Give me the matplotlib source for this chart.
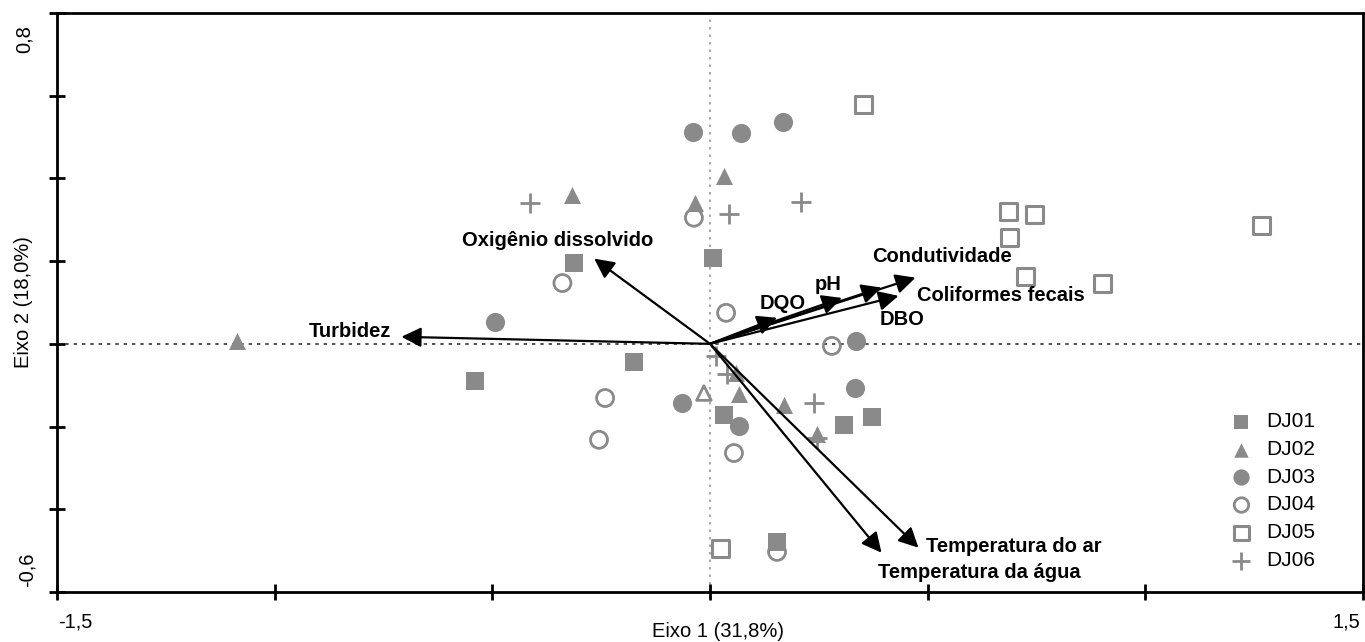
import numpy as np
import matplotlib.pyplot as plt

#%% DATA

# sample scores (Eixo 1, Eixo 2)
dj01_x = [-0.312, 0.007, -0.541, -0.174, 0.032, 0.307, 0.372, 0.154]
dj01_y = [0.196, 0.208, -0.089, -0.044, -0.172, -0.196, -0.177, -0.479]

dj02_x = [-1.087, -0.317, -0.034, 0.032, 0.067, 0.170, 0.245, 0.060]
dj02_y = [0.007, 0.360, 0.341, 0.406, -0.121, -0.147, -0.218, -0.070]
dj02_open_x = [-0.014]
dj02_open_y = [-0.119]

dj03_x = [-0.039, 0.071, 0.167, -0.495, 0.335, 0.333, -0.064, 0.067]
dj03_y = [0.513, 0.510, 0.537, 0.053, 0.007, -0.106, -0.143, -0.198]

dj04_x = [-0.037, -0.339, 0.037, 0.280, -0.241, -0.255, 0.055, 0.154]
dj04_y = [0.305, 0.147, 0.075, -0.005, -0.131, -0.232, -0.264, -0.503]

dj05_x = [0.353, 0.686, 0.745, 0.688, 0.725, 0.901, 1.266, 0.025]
dj05_y = [0.578, 0.319, 0.312, 0.256, 0.162, 0.145, 0.285, -0.496]

dj06_x = [-0.413, 0.044, 0.209, 0.014, 0.039, 0.239, 0.245]
dj06_y = [0.341, 0.314, 0.343, -0.029, -0.073, -0.143, -0.227]

# environmental variables (arrow tips)
var_names = ['Oxigênio dissolvido', 'Turbidez', 'DQO', 'pH', 'DBO',
             'Condutividade', 'Coliformes fecais',
             'Temperatura do ar', 'Temperatura da água']
var_x = [-0.266, -0.709, 0.154, 0.303, 0.394, 0.472, 0.433, 0.479, 0.394]
var_y = [0.206, 0.017, 0.063, 0.111, 0.136, 0.160, 0.116, -0.493, -0.505]
# label anchor (left edge, vertical centre)
lab_x = [-0.569, -0.921, 0.113, 0.241, 0.389, 0.372, 0.476, 0.497, 0.385]
lab_y = [0.250, 0.029, 0.097, 0.143, 0.060, 0.210, 0.118, -0.490, -0.553]

#%% PLOT

gray = '#8a8a8a'
font = 'Liberation Sans'
fig = plt.figure(figsize=(13.65, 6.42), dpi=100)
ax = fig.add_axes([0.0418, 0.0779, 0.9567, 0.9019])
ax.set_xlim(-1.5, 1.5)
ax.set_ylim(-0.6, 0.8)

ax.axvline(0, color='#999999', lw=1.2, ls=(0, (1.5, 3)), zorder=1)
ax.axhline(0, color='#333333', lw=1.2, ls=(0, (2, 3)), zorder=1)

ax.scatter(dj01_x, dj01_y, marker='s', s=150, color=gray, lw=0, label='DJ01', zorder=2)
ax.scatter(dj02_x, dj02_y, marker='^', s=150, color=gray, lw=0, label='DJ02', zorder=2)
ax.scatter(dj02_open_x, dj02_open_y, marker='^', s=110, facecolor='none',
           edgecolor=gray, lw=2, zorder=2)
ax.scatter(dj03_x, dj03_y, marker='o', s=190, color=gray, lw=0, label='DJ03', zorder=2)
ax.scatter(dj04_x, dj04_y, marker='o', s=150, facecolor='none', edgecolor=gray,
           lw=2, label='DJ04', zorder=2)
ax.scatter(dj05_x, dj05_y, marker='s', s=150, facecolor='none', edgecolor=gray,
           lw=2.2, label='DJ05', zorder=2)
ax.scatter(dj06_x, dj06_y, marker='+', s=220, color=gray, lw=2, label='DJ06', zorder=2)

for name, vx, vy, tx, ty in zip(var_names, var_x, var_y, lab_x, lab_y):
    ax.annotate('', xy=(vx, vy), xytext=(0, 0),
                arrowprops=dict(arrowstyle='-|>', color='black', lw=1.6,
                                mutation_scale=30, shrinkA=0, shrinkB=0),
                zorder=3)
    ax.text(tx, ty, name, fontsize=14.5, fontweight='bold',
            family=font, ha='left', va='center', zorder=4)

# ticks, end labels only
ax.set_xticks([-1.5, -1.0, -0.5, 0, 0.5, 1.0, 1.5])
ax.set_yticks([-0.6, -0.4, -0.2, 0, 0.2, 0.4, 0.6, 0.8])
ax.set_xticklabels([])
ax.set_yticklabels([])
ax.tick_params(direction='inout', length=12, width=2)
for s in ax.spines.values():
    s.set_linewidth(2)

lab_kw = dict(textcoords='offset pixels', family=font, fontsize=14.5)
ax.annotate('0,8', xy=(0, 0.8), xycoords=('axes fraction', 'data'),
            xytext=(-33, -12), rotation=90, ha='center', va='top', **lab_kw)
ax.annotate('-0,6', xy=(0, -0.6), xycoords=('axes fraction', 'data'),
            xytext=(-30, 5), rotation=90, ha='center', va='bottom', **lab_kw)
ax.annotate('-1,5', xy=(-1.5, 0), xycoords=('data', 'axes fraction'),
            xytext=(1, -30), ha='left', va='center', **lab_kw)
ax.annotate('1,5', xy=(1.5, 0), xycoords=('data', 'axes fraction'),
            xytext=(-3, -30), ha='right', va='center', **lab_kw)

ax.set_xlabel('Eixo 1 (31,8%)', family=font, fontsize=14.5, labelpad=12)
ax.xaxis.label.set_x(0.506)
ax.set_ylabel('Eixo 2 (18,0%)', family=font, fontsize=14.5, labelpad=8)

leg = ax.legend(loc='lower right', bbox_to_anchor=(0.9716, 0.02), frameon=False,
                prop={'family': font, 'size': 15},
                handletextpad=0.2, labelspacing=0.42, markerscale=0.85,
                borderpad=0)

fig.savefig('out.png', dpi=100)
